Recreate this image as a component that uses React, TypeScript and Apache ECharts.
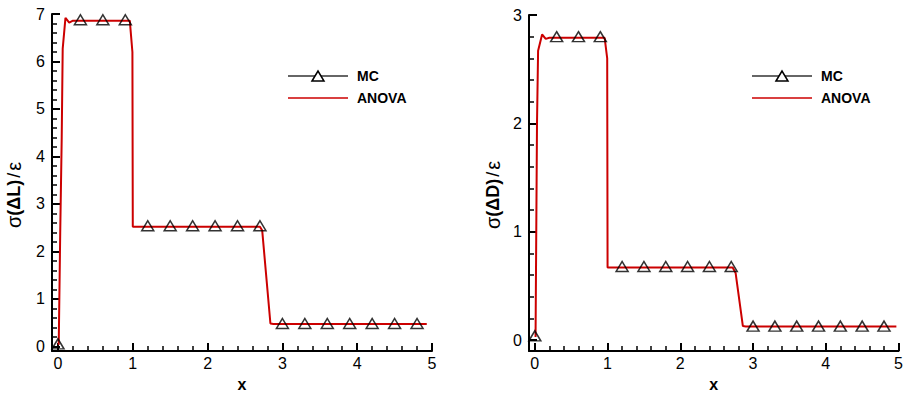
import React, { useEffect, useRef } from "react";
import * as echarts from "echarts";

// MC sample locations and values
const mcX = [0, 0.3, 0.6, 0.9, 1.2, 1.5, 1.8, 2.1, 2.4, 2.7, 3.0, 3.3, 3.6, 3.9, 4.2, 4.5, 4.8];
const mcLift = [0.05, 6.88, 6.88, 6.88, 2.54, 2.54, 2.54, 2.54, 2.54, 2.54, 0.48, 0.48, 0.48, 0.48, 0.48, 0.48, 0.48];
const mcDrag = [0.04, 2.8, 2.8, 2.8, 0.68, 0.68, 0.68, 0.68, 0.68, 0.68, 0.13, 0.13, 0.13, 0.13, 0.13, 0.13, 0.13];

// ANOVA curves
const anovaLiftX = [0.01, 0.03, 0.05, 0.063, 0.1, 0.15, 0.2, 0.96, 0.995, 1.0, 2.7, 2.73, 2.84, 2.88, 4.93];
const anovaLiftY = [0.03, 2.4, 4.4, 6.27, 6.92, 6.82, 6.86, 6.86, 6.2, 2.52, 2.52, 2.44, 0.48, 0.47, 0.47];
const anovaDragX = [0.01, 0.03, 0.045, 0.1, 0.15, 0.2, 0.96, 0.995, 1.0, 2.72, 2.76, 2.86, 2.9, 4.97];
const anovaDragY = [0.03, 2.0, 2.67, 2.82, 2.78, 2.79, 2.79, 2.6, 0.67, 0.67, 0.62, 0.13, 0.127, 0.127];

const seriesNames = ["MC", "ANOVA"];
const FONT = "Liberation Sans";
const RED = "#cc0000";
const X_MIN = -0.08;
const Y_MIN = -0.1;

// only integer ticks carry labels
const intLabel = (v: number) =>
  Math.abs(v - Math.round(v)) < 1e-9 ? String(Math.round(v)) : "";

function makeAxis(extra: any, margin: number) {
  return {
    type: "value",
    axisLine: { show: true, onZero: false, lineStyle: { color: "#000", width: 2 } },
    axisTick: { show: true, inside: true, length: 8, lineStyle: { color: "#000", width: 2 } },
    minorTick: { show: true, splitNumber: 5, length: 5, lineStyle: { color: "#000", width: 1.5 } },
    splitLine: { show: false },
    minInterval: 1,
    maxInterval: 1,
    axisLabel: { color: "#000", fontSize: 16, fontFamily: FONT, formatter: intLabel, margin },
    ...extra,
  };
}

const yTitleRich = {
  s: { fontFamily: FONT, fontSize: 20, fill: "#000", color: "#000" },
  b: { fontFamily: FONT, fontSize: 18, fontWeight: "bold", fill: "#000", color: "#000" },
  sl: { fontFamily: FONT, fontSize: 18, fill: "#000", color: "#000", padding: [0, 2, 0, 2] },
};

function yTitle(letter: string, cx: number, cy: number) {
  return {
    type: "text",
    x: cx,
    y: cy,
    rotation: Math.PI / 2,
    style: {
      text: `{s|σ}{b|(Δ${letter})}{sl|/}{s|ε}`,
      rich: yTitleRich,
      align: "center",
      verticalAlign: "middle",
    },
  };
}

function legendGraphic(x0: number, y0: number) {
  const y1 = y0 + 22;
  const mid = x0 + 30;
  return [
    { type: "line", shape: { x1: x0, y1: y0, x2: x0 + 60, y2: y0 }, style: { stroke: "#333", lineWidth: 1.5 } },
    {
      type: "polygon",
      shape: { points: [[mid - 6, y0 + 5], [mid, y0 - 5], [mid + 6, y0 + 5]] },
      style: { fill: "#fff", stroke: "#000", lineWidth: 1.5 },
    },
    {
      type: "text",
      x: x0 + 69,
      y: y0,
      style: { text: seriesNames[0], fontFamily: FONT, fontSize: 14, fontWeight: "bold", fill: "#000", verticalAlign: "middle" },
    },
    { type: "line", shape: { x1: x0, y1: y1, x2: x0 + 60, y2: y1 }, style: { stroke: RED, lineWidth: 1.5 } },
    {
      type: "text",
      x: x0 + 69,
      y: y1,
      style: { text: seriesNames[1], fontFamily: FONT, fontSize: 14, fontWeight: "bold", fill: "#000", verticalAlign: "middle" },
    },
  ];
}

export default function App() {
  const ref = useRef<HTMLDivElement>(null);
  useEffect(() => {
    if (!ref.current) return;
    const chart = echarts.init(ref.current, undefined, { renderer: "svg" });
    const pairs = (xs: number[], ys: number[]) => xs.map((x, i) => [x, ys[i]]);
    const xNameStyle = { fontFamily: FONT, fontSize: 16, fontWeight: "bold", color: "#000" };
    const mcStyle = {
      type: "scatter",
      symbol: "triangle",
      symbolSize: [12, 10],
      itemStyle: { color: "rgba(0,0,0,0)", borderColor: "#000", borderWidth: 1.5 },
      z: 3,
    };
    const anovaStyle = {
      type: "line",
      showSymbol: false,
      symbol: "none",
      lineStyle: { color: RED, width: 2 },
      z: 2,
    };
    chart.setOption({
      animation: false,
      grid: [
        { left: 52, top: 14, width: 380, height: 348 },
        { left: 529, top: 15, width: 376, height: 348 },
      ],
      xAxis: [
        makeAxis({ gridIndex: 0, min: X_MIN, max: 5, splitNumber: 5, name: "x", nameLocation: "middle", nameGap: 25, nameTextStyle: xNameStyle }, 4),
        makeAxis({ gridIndex: 1, min: X_MIN, max: 5, splitNumber: 5, name: "x", nameLocation: "middle", nameGap: 25, nameTextStyle: xNameStyle }, 4),
      ],
      yAxis: [
        makeAxis({ gridIndex: 0, min: Y_MIN, max: 7, splitNumber: 7 }, 7),
        makeAxis({ gridIndex: 1, min: Y_MIN, max: 3, splitNumber: 3 }, 7),
      ],
      series: [
        { ...anovaStyle, name: seriesNames[1], xAxisIndex: 0, yAxisIndex: 0, data: pairs(anovaLiftX, anovaLiftY) },
        { ...mcStyle, name: seriesNames[0], xAxisIndex: 0, yAxisIndex: 0, data: pairs(mcX, mcLift) },
        { ...anovaStyle, name: seriesNames[1], xAxisIndex: 1, yAxisIndex: 1, data: pairs(anovaDragX, anovaDragY) },
        { ...mcStyle, name: seriesNames[0], xAxisIndex: 1, yAxisIndex: 1, data: pairs(mcX, mcDrag) },
      ],
      graphic: [
        ...legendGraphic(288, 76),
        ...legendGraphic(752, 76),
        yTitle("L", 14, 195),
        yTitle("D", 493, 195),
      ],
    });
    return () => chart.dispose();
  }, []);
  return (
    <div
      ref={ref}
      style={{ position: "fixed", left: 0, top: 0, width: 906, height: 397, background: "#fff" }}
    />
  );
}
